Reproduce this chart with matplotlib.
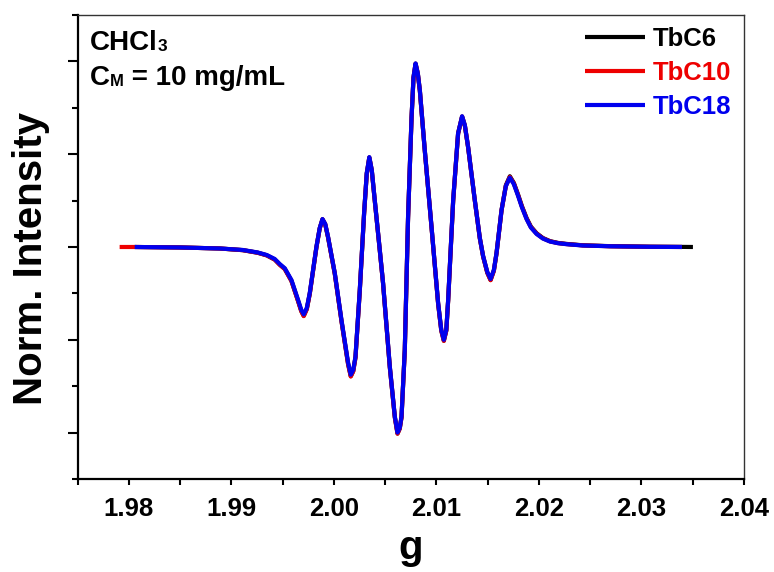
import numpy as np
import matplotlib
matplotlib.use('Agg')
from matplotlib import pyplot as plt
from matplotlib.ticker import MultipleLocator

plt.rcParams['font.family'] = ['Liberation Sans', 'DejaVu Sans']
plt.rcParams['font.weight'] = 'bold'

# g values (shared by the three spectra)
g = [1.97909, 1.98056, 1.98495, 1.98885, 1.99110, 1.99256, 1.99344, 1.99422,
     1.99471, 1.99520, 1.99585, 1.99650, 1.99681, 1.99705, 1.99735, 1.99764,
     1.99829, 1.99861, 1.99888, 1.99915, 1.99942, 2.00008, 2.00073, 2.00138,
     2.00164, 2.00188, 2.00210, 2.00252, 2.00294, 2.00320, 2.00345, 2.00369,
     2.00398, 2.00447, 2.00479, 2.00545, 2.00594, 2.00620, 2.00642, 2.00659,
     2.00691, 2.00723, 2.00757, 2.00776, 2.00796, 2.00818, 2.00838, 2.00886,
     2.00952, 2.01016, 2.01047, 2.01072, 2.01096, 2.01114, 2.01163, 2.01211,
     2.01250, 2.01277, 2.01309, 2.01374, 2.01423, 2.01455, 2.01496, 2.01528,
     2.01560, 2.01586, 2.01635, 2.01677, 2.01716, 2.01755, 2.01797, 2.01833,
     2.01879, 2.01921, 2.01977, 2.02038, 2.02107, 2.02185, 2.02270, 2.02429,
     2.02692, 2.03083, 2.03395, 2.03502]

nan = np.nan
tbc6 = [nan, 0.0, -0.005, -0.016, -0.034, -0.062, -0.090, -0.135,
        -0.190, -0.236, -0.364, -0.582, -0.690, -0.742, -0.668, -0.503,
        -0.002, 0.200, 0.298, 0.244, 0.106, -0.288, -0.795, -1.262,
        -1.392, -1.337, -1.190, -0.468, 0.362, 0.792, 0.964, 0.824,
        0.500, -0.036, -0.392, -1.296, -1.836, -2.010, -1.955, -1.835,
        -1.112, 0.320, 1.395, 1.825, 1.975, 1.868, 1.684, 1.040,
        0.210, -0.608, -0.900, -1.010, -0.900, -0.576, 0.500, 1.222,
        1.405, 1.308, 1.072, 0.502, 0.094, -0.101, -0.277, -0.356,
        -0.255, -0.068, 0.398, 0.665, 0.762, 0.690, 0.562, 0.442,
        0.312, 0.220, 0.148, 0.097, 0.063, 0.044, 0.033, 0.018,
        0.009, 0.003, 0.001, 0.0]

tbc10 = [0.0, 0.0, -0.005, -0.016, -0.034, -0.062, -0.090, -0.136,
         -0.192, -0.238, -0.366, -0.584, -0.692, -0.745, -0.670, -0.504,
         -0.002, 0.200, 0.298, 0.244, 0.106, -0.288, -0.796, -1.264,
         -1.396, -1.340, -1.192, -0.468, 0.362, 0.792, 0.964, 0.824,
         0.500, -0.036, -0.392, -1.298, -1.838, -2.012, -1.957, -1.836,
         -1.112, 0.320, 1.395, 1.825, 1.975, 1.868, 1.684, 1.040,
         0.210, -0.608, -0.902, -1.012, -0.902, -0.577, 0.500, 1.222,
         1.405, 1.308, 1.072, 0.502, 0.094, -0.102, -0.278, -0.358,
         -0.256, -0.068, 0.396, 0.658, 0.755, 0.684, 0.556, 0.436,
         0.306, 0.215, 0.144, 0.094, 0.061, 0.042, 0.031, 0.017,
         0.008, 0.002, 0.0, nan]

tbc18 = [nan, 0.0, -0.005, -0.016, -0.032, -0.059, -0.086, -0.129,
         -0.183, -0.229, -0.355, -0.570, -0.677, -0.726, -0.656, -0.495,
         0.003, 0.204, 0.301, 0.247, 0.111, -0.280, -0.785, -1.247,
         -1.376, -1.323, -1.180, -0.462, 0.366, 0.796, 0.968, 0.828,
         0.505, -0.032, -0.387, -1.290, -1.828, -2.000, -1.946, -1.828,
         -1.108, 0.323, 1.398, 1.828, 1.978, 1.871, 1.688, 1.043,
         0.215, -0.602, -0.892, -1.000, -0.892, -0.570, 0.505, 1.226,
         1.409, 1.312, 1.075, 0.505, 0.097, -0.097, -0.269, -0.344,
         -0.247, -0.065, 0.398, 0.656, 0.747, 0.677, 0.548, 0.430,
         0.301, 0.210, 0.140, 0.091, 0.059, 0.041, 0.030, 0.016,
         0.008, 0.002, 0.0, nan]

labels = ['TbC6', 'TbC10', 'TbC18']
colors = ['black', '#ee0000', '#0000ee']

fig = plt.figure(figsize=(7.74, 5.72), dpi=100)
ax = fig.add_axes([0.1004, 0.1626, 0.8608, 0.8112])

for y, lab, col in zip([tbc6, tbc10, tbc18], labels, colors):
    ax.plot(g, y, color=col, lw=3.0, label=lab,
            solid_joinstyle='round', solid_capstyle='butt')

ax.set_xlim(1.975, 2.04)
ax.set_ylim(-2.5, 2.5)
ax.xaxis.set_minor_locator(MultipleLocator(0.005))
ax.yaxis.set_major_locator(MultipleLocator(1))
ax.yaxis.set_minor_locator(MultipleLocator(0.5))
ax.set_xticks([1.98, 1.99, 2.00, 2.01, 2.02, 2.03, 2.04])
ax.set_xticklabels(['1.98', '1.99', '2.00', '2.01', '2.02', '2.03', '2.04'])
ax.set_yticklabels([])

ax.tick_params(axis='x', which='major', direction='out', length=4, width=1.5,
               labelsize=18.5, pad=9)
ax.tick_params(axis='x', which='minor', direction='out', length=4, width=1.5)
ax.tick_params(axis='y', which='major', direction='out', length=7, width=1.5)
ax.tick_params(axis='y', which='minor', direction='out', length=4.5, width=1.5)
for lab in ax.get_xticklabels():
    lab.set_fontweight('bold')

ax.spines['left'].set_linewidth(1.6)
ax.spines['bottom'].set_linewidth(1.6)
ax.spines['top'].set_linewidth(1.0)
ax.spines['right'].set_linewidth(1.0)
ax.spines['top'].set_color('#333333')
ax.spines['right'].set_color('#333333')

ax.set_xlabel('g', fontsize=29, fontweight='bold', labelpad=6)
ax.set_ylabel('Norm. Intensity', fontsize=29, fontweight='bold')
ax.yaxis.set_label_coords(-0.042, 0.476)

# annotations: small index letters sit on the baseline
t1 = ax.text(0.018, 0.9246, 'CHCl', transform=ax.transAxes, fontsize=20,
             fontweight='bold', va='baseline')
ax.annotate('3', xy=(1, 0), xycoords=(t1, t1), va='bottom', ha='left',
            fontsize=12.5, fontweight='bold', xytext=(0, 1.2),
            textcoords='offset points')
t2 = ax.text(0.018, 0.849, 'C', transform=ax.transAxes, fontsize=20,
             fontweight='bold', va='baseline')
t3 = ax.annotate('M', xy=(1, 0), xycoords=(t2, t2), va='bottom', ha='left',
                 fontsize=12, fontweight='bold', xytext=(0.3, 1.2),
                 textcoords='offset points')
ax.annotate(' = 10 mg/mL', xy=(1, 0), xycoords=(t3, t2), va='bottom',
            ha='left', fontsize=20, fontweight='bold')

leg = ax.legend(loc='upper right', bbox_to_anchor=(1.0, 1.0), frameon=False,
                fontsize=18.5, handlelength=2.35, handletextpad=0.3,
                labelspacing=0.38, labelcolor='linecolor', borderaxespad=0.08)
for t in leg.get_texts():
    t.set_fontweight('bold')

fig.savefig('out.png', dpi=100)
